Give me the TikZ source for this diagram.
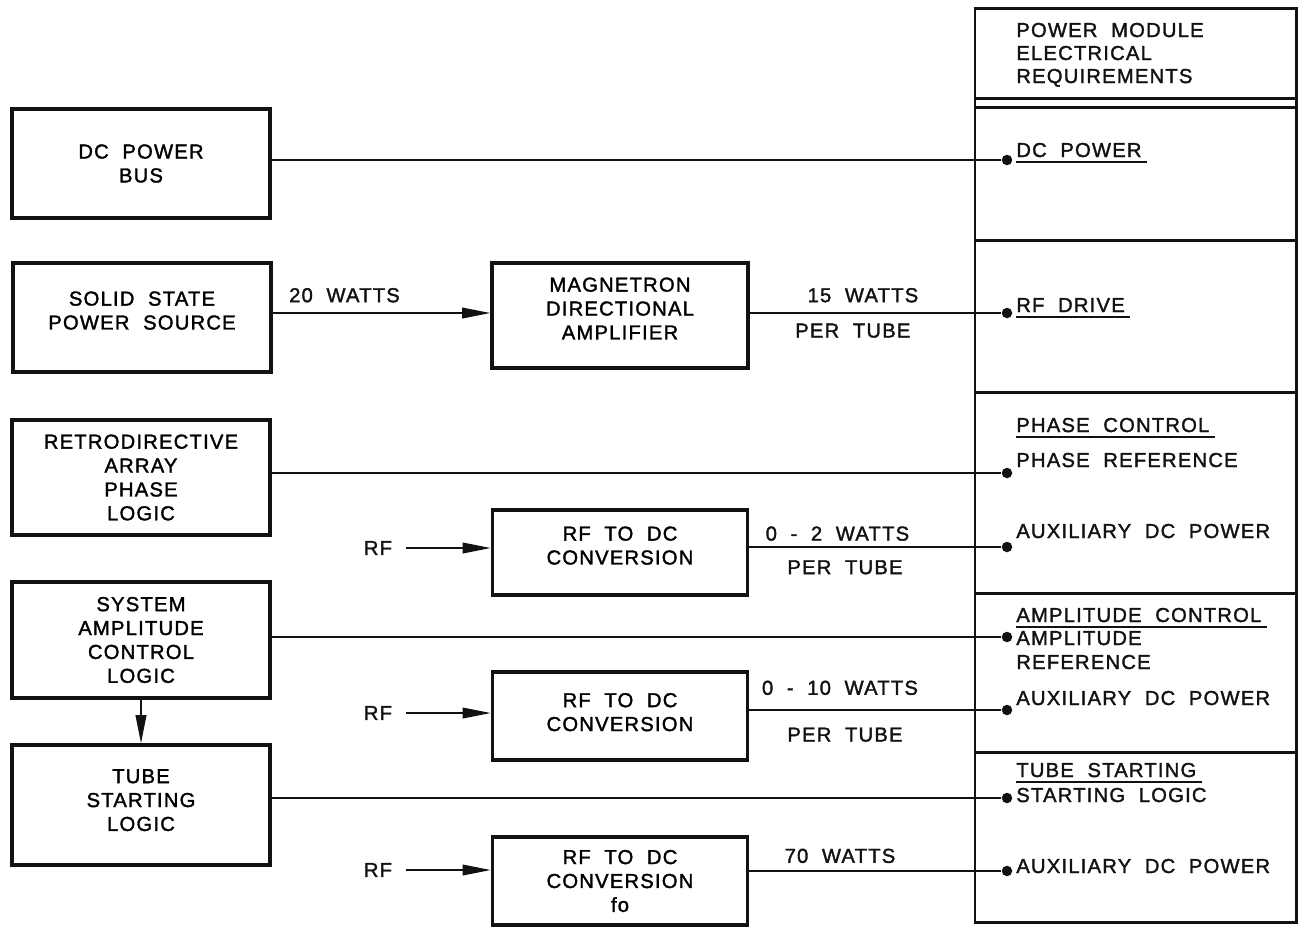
\documentclass[tikz,border=0pt]{standalone}
\usepackage{fontspec}
\setmainfont{Liberation Sans}[LetterSpace=6,WordSpace=2,FakeBold=1.6]
\usetikzlibrary{arrows.meta,positioning}
\definecolor{inkBlack}{RGB}{18,18,18}
\newcommand{\HeadRule}[1]{\setbox0\hbox{#1}\vtop{\copy0\kern2.2pt\hrule height 1pt width \dimexpr\wd0+3pt\relax}}
\tikzset{
  blockBox/.style={draw=inkBlack,line width=1.9pt,align=center,minimum width=5.16cm,inner sep=0pt},
  liftText/.style={text depth=#1},
  wireLine/.style={draw=inkBlack,line width=1.1pt},
  feedArrow/.style={wireLine,-{Triangle[length=16pt,width=6pt]}},
  panelLine/.style={draw=inkBlack,line width=1.7pt},
  dotMark/.style={circle,fill=inkBlack,inner sep=0pt,minimum size=2.1mm},
  reqText/.style={anchor=base west,inner sep=0pt,text=inkBlack},
  wattText/.style={inner sep=0pt,text=inkBlack}
}
\begin{document}
\begin{tikzpicture}[x=0.02cm,y=-0.02cm,font=\fontsize{11.5}{13.6}\selectfont]
\useasboundingbox (0,0) rectangle (1303,931);

\node[blockBox,minimum height=2.18cm] (dcBus) at (141,163.5) {DC POWER\\BUS};
\node[blockBox,liftText=8pt,minimum height=2.18cm] (ssSource) at (142,317.5) {SOLID STATE\\POWER SOURCE};
\node[blockBox,minimum height=2.3cm] (retroLogic) at (141,477.5) {RETRODIRECTIVE\\ARRAY\\PHASE\\LOGIC};
\node[blockBox,minimum height=2.32cm] (ampLogic) at (141,640) {SYSTEM\\AMPLITUDE\\CONTROL\\LOGIC};
\node[blockBox,liftText=5.6pt,minimum height=2.4cm] (tubeLogic) at (141,805) {TUBE\\STARTING\\LOGIC};
\node[blockBox,liftText=8pt,minimum width=5.12cm,minimum height=2.1cm] (magAmp) at (620,315.5) {MAGNETRON\\DIRECTIONAL\\AMPLIFIER};
\node[blockBox,liftText=8pt,minimum width=5.1cm,minimum height=1.7cm] (rfConvA) at (620,552.5) {RF TO DC\\CONVERSION};
\node[blockBox,liftText=4.5pt,minimum width=5.1cm,minimum height=1.76cm] (rfConvB) at (620,716) {RF TO DC\\CONVERSION};
\node[blockBox,minimum width=5.1cm,minimum height=1.76cm] (rfConvC) at (620,881) {RF TO DC\\CONVERSION\\fo};

\node[wattText] (rfInA) at (378,548) {RF};
\node[wattText] (rfInB) at (378,713) {RF};
\node[wattText] (rfInC) at (378,870) {RF};

\draw[panelLine] (975,8) rectangle (1296,922);
\foreach \yy in {98,107,240,392,593,752}
  \draw[panelLine] (975,\yy) -- (1296,\yy);

\node[reqText] (reqTitleA) at (1016,37) {POWER MODULE};
\node[reqText] (reqTitleB) at (1016,60) {ELECTRICAL};
\node[reqText] (reqTitleC) at (1016,83) {REQUIREMENTS};
\node[reqText] (reqDC) at (1016,157) {\HeadRule{DC POWER}};
\node[reqText] (reqRF) at (1016,312) {\HeadRule{RF DRIVE}};
\node[reqText] (reqPhase) at (1016,432) {\HeadRule{PHASE CONTROL}};
\node[reqText] (reqPhaseRef) at (1016,467) {PHASE REFERENCE};
\node[reqText] (reqAuxA) at (1016,538) {AUXILIARY DC POWER};
\node[reqText] (reqAmp) at (1016,622) {\HeadRule{AMPLITUDE CONTROL}};
\node[reqText] (reqAmpRefA) at (1016,645) {AMPLITUDE};
\node[reqText] (reqAmpRefB) at (1016,669) {REFERENCE};
\node[reqText] (reqAuxB) at (1016,705) {AUXILIARY DC POWER};
\node[reqText] (reqTube) at (1016,777) {\HeadRule{TUBE STARTING}};
\node[reqText] (reqStartLogic) at (1016,802) {STARTING LOGIC};
\node[reqText] (reqAuxC) at (1016,873) {AUXILIARY DC POWER};

\node[dotMark] (dDC) at (1007,160) {};
\node[dotMark] (dRF) at (1007,313) {};
\node[dotMark] (dPhase) at (1007,473) {};
\node[dotMark] (dAuxA) at (1007,547) {};
\node[dotMark] (dAmp) at (1007,637) {};
\node[dotMark] (dAuxB) at (1007,710) {};
\node[dotMark] (dStart) at (1007,798) {};
\node[dotMark] (dAuxC) at (1007,871) {};

\draw[wireLine] (dcBus.east |- dDC) -- (dDC);
\draw[feedArrow] (ssSource.east |- dRF) -- node[wattText,pos=0.33,above=5.5pt] (wattSS) {20 WATTS} (magAmp.west |- dRF);
\draw[wireLine] (magAmp.east |- dRF) -- node[wattText,pos=0.45,above=5.5pt] (wattMag) {15 WATTS}
  node[wattText,pos=0.41,below=5.5pt] (tubeMag) {PER TUBE} (dRF);
\draw[wireLine] (retroLogic.east |- dPhase) -- (dPhase);
\draw[feedArrow] (rfInA.east) ++(8pt,0) -- (rfInA.east -| rfConvA.west);
\draw[wireLine] (rfConvA.east |- dAuxA) -- node[wattText,pos=0.35,above=3pt] (wattA) {0 - 2 WATTS}
  node[wattText,pos=0.38,below=7pt] (tubeA) {PER TUBE} (dAuxA);
\draw[wireLine] (ampLogic.east |- dAmp) -- (dAmp);
\draw[feedArrow] (ampLogic) -- (tubeLogic);
\draw[feedArrow] (rfInB.east) ++(8pt,0) -- (rfInB.east -| rfConvB.west);
\draw[wireLine] (rfConvB.east |- dAuxB) -- node[wattText,pos=0.36,above=8pt] (wattB) {0 - 10 WATTS}
  node[wattText,pos=0.38,below=9.5pt] (tubeB) {PER TUBE} (dAuxB);
\draw[wireLine] (tubeLogic.east |- dStart) -- (dStart);
\draw[feedArrow] (rfInC.east) ++(8pt,0) -- (rfInC.east -| rfConvC.west);
\draw[wireLine] (rfConvC.east |- dAuxC) -- node[wattText,pos=0.36,above=4pt] (wattC) {70 WATTS} (dAuxC);
\end{tikzpicture}
\end{document}
